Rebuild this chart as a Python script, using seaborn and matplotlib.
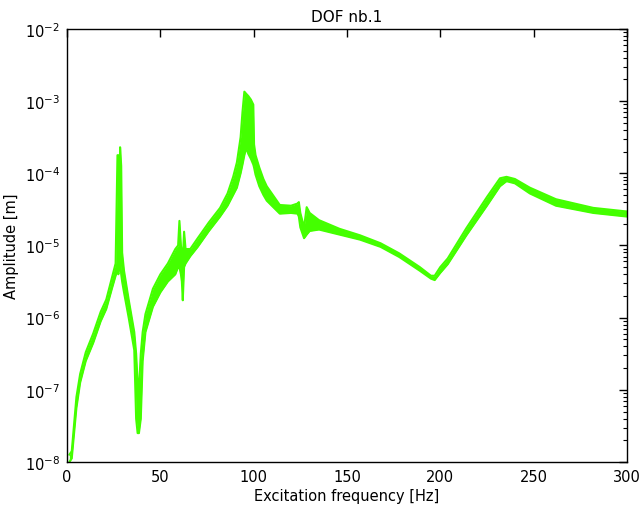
import numpy as np
import matplotlib
matplotlib.use('Agg')
import matplotlib.pyplot as plt
import seaborn as sns

# Frequency response envelope (band of overlapping curves)
freq = [1.2, 2.5, 5, 7, 10, 14, 18, 21, 24, 26, 27, 27.5, 28, 28.4, 29, 29.5, 30.5,
        33, 36, 37, 37.8, 38.5, 39.5, 40.5, 42, 46, 50, 54, 58, 59.5, 60.2, 61,
        61.5, 62, 62.7, 63.5, 66, 70, 76, 82, 86, 89, 91, 93, 94, 95, 96, 97.1,
        98.5, 99.8, 100.2, 101, 103, 105.2, 107, 114, 120, 123.5, 124.2, 125, 127,
        128.4, 130, 135, 146, 157, 168, 178, 189, 195, 197, 200, 204, 214, 225,
        232, 235.5, 240, 248, 262, 282, 300]
log_low = [-8.0, -7.95, -7.25, -6.9, -6.6, -6.35, -6.05, -5.88, -5.6, -5.42, -5.35,
           -5.4, -5.3, -5.2, -5.4, -5.5, -5.65, -6.0, -6.45, -7.4, -7.6, -7.6, -7.4,
           -6.6, -6.2, -5.85, -5.65, -5.5, -5.4, -5.3, -5.3, -5.4, -5.5, -5.76, -5.3,
           -5.25, -5.15, -5.02, -4.8, -4.6, -4.45, -4.3, -4.2, -4.0, -3.88, -3.75,
           -3.65, -3.73, -3.8, -3.88, -3.92, -4.02, -4.18, -4.3, -4.38, -4.56, -4.55,
           -4.56, -4.6, -4.75, -4.9, -4.85, -4.8, -4.78, -4.85, -4.92, -5.02, -5.16,
           -5.35, -5.46, -5.48, -5.38, -5.26, -4.86, -4.45, -4.18, -4.11, -4.14,
           -4.28, -4.45, -4.55, -4.6]
log_high = [-7.9, -7.85, -7.1, -6.78, -6.48, -6.22, -5.92, -5.75, -5.45, -5.25, -3.75,
            -3.75, -4.8, -3.64, -3.9, -5.1, -5.35, -5.75, -6.2, -6.5, -6.9, -7.0, -6.5,
            -6.2, -5.95, -5.6, -5.4, -5.25, -5.05, -5.0, -4.66, -5.0, -5.1, -5.2, -4.81,
            -5.05, -5.05, -4.9, -4.68, -4.48, -4.28, -4.05, -3.85, -3.5, -3.15, -2.87,
            -2.9, -2.93, -2.98, -3.05, -3.6, -3.75, -3.92, -4.08, -4.18, -4.44, -4.45,
            -4.42, -4.40, -4.55, -4.75, -4.47, -4.55, -4.65, -4.77, -4.86, -4.97,
            -5.11, -5.30, -5.42, -5.42, -5.30, -5.18, -4.76, -4.33, -4.07, -4.05,
            -4.08, -4.2, -4.36, -4.48, -4.53]

amp_low = 10.0 ** np.array(log_low)
amp_high = 10.0 ** np.array(log_high)
green = '#44ff00'

sns.set_style('white')
plt.rcParams['xtick.direction'] = 'in'
plt.rcParams['ytick.direction'] = 'in'
plt.rcParams['xtick.top'] = True
plt.rcParams['ytick.right'] = True
plt.rcParams['font.family'] = ['DejaVu Sans']
plt.rcParams['text.color'] = 'black'
plt.rcParams['axes.labelcolor'] = 'black'
plt.rcParams['xtick.color'] = 'black'
plt.rcParams['ytick.color'] = 'black'

fig = plt.figure(figsize=(6.39, 5.06), dpi=100)
ax = fig.add_axes([0.105, 0.085, 0.876, 0.856])

ax.fill_between(freq, amp_low, amp_high, color=green, linewidth=0)
sns.lineplot(x=freq, y=amp_low, color=green, lw=1.5, estimator=None, sort=False, ax=ax)
sns.lineplot(x=freq, y=amp_high, color=green, lw=1.5, estimator=None, sort=False, ax=ax)

ax.set_yscale('log')
ax.set_xlim(0, 300)
ax.set_ylim(1e-8, 1e-2)
ax.set_xticks([0, 50, 100, 150, 200, 250, 300])
ax.tick_params(which='major', length=6, width=1, labelsize=10.5, pad=5)
ax.tick_params(which='minor', length=3, width=0.8)
for s in ax.spines.values():
    s.set_color('black')
    s.set_linewidth(1)

ax.set_title('DOF nb.1', fontsize=11, pad=6)
ax.set_xlabel('Excitation frequency [Hz]', fontsize=10.5, labelpad=3)
ax.set_ylabel('Amplitude [m]', fontsize=10.5, labelpad=4)

fig.savefig('out.png', dpi=100, facecolor='white')
